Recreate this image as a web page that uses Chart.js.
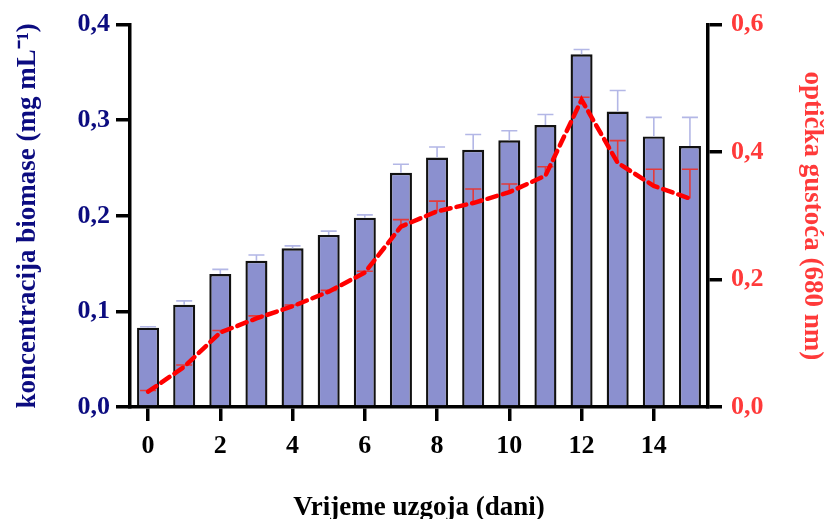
<!DOCTYPE html>
<html>
<head>
<meta charset="utf-8">
<script src="https://cdn.jsdelivr.net/npm/chart.js@4.4.1/dist/chart.umd.min.js"></script>
<style>
    html, body { margin: 0; padding: 0; background: #fff; }
    #wrap { width: 828px; height: 519px; }
</style>
</head>
<body>
<div id="wrap"><canvas id="growthChart" width="828" height="519"></canvas></div>
<script>
// --- data ---
const days = ['0','1','2','3','4','5','6','7','8','9','10','11','12','13','14','15'];
const biomass = [0.083, 0.107, 0.139, 0.153, 0.166, 0.180, 0.198, 0.245, 0.261, 0.269, 0.279, 0.295, 0.369, 0.309, 0.283, 0.273];
const biomassErr = [0.001, 0.004, 0.005, 0.006, 0.0025, 0.004, 0.003, 0.009, 0.011, 0.016, 0.010, 0.011, 0.005, 0.022, 0.020, 0.030];
const opticalDensity = [0.024, 0.063, 0.117, 0.139, 0.158, 0.181, 0.211, 0.283, 0.307, 0.320, 0.337, 0.363, 0.482, 0.383, 0.347, 0.327];
const opticalErr = [0.002, 0.003, 0.003, 0.004, 0.002, 0.002, 0.002, 0.011, 0.016, 0.022, 0.013, 0.014, 0.004, 0.035, 0.026, 0.046];
const leftTicks = [0, 0.1, 0.2, 0.3, 0.4];
const rightTicks = [0, 0.2, 0.4, 0.6];

const SERIF = '"Liberation Serif", "Times New Roman", serif';
const NAVY = '#0c0c80';
const RED = '#ff3a3a';

const fmt = v => v.toFixed(1).replace('.', ',');

// upper-only error bars with caps
function drawErr(chart, dsIndex, errs, axisId, color) {
    const meta = chart.getDatasetMeta(dsIndex);
    const scale = chart.scales[axisId];
    const values = chart.data.datasets[dsIndex].data;
    const ctx = chart.ctx;
    ctx.save();
    ctx.strokeStyle = color;
    ctx.lineWidth = 1.6;
    meta.data.forEach((el, i) => {
        const x = el.x;
        const y0 = scale.getPixelForValue(values[i]);
        const y1 = scale.getPixelForValue(values[i] + errs[i]);
        ctx.beginPath();
        ctx.moveTo(x, y0); ctx.lineTo(x, y1);
        ctx.moveTo(x - 8, y1); ctx.lineTo(x + 8, y1);
        ctx.stroke();
    });
    ctx.restore();
}

const errorBars = {
    id: 'errorBars',
    afterDatasetDraw(chart, args) {
        if (args.index === 0) drawErr(chart, 0, biomassErr, 'y', '#b3b7e6');
    },
    beforeDatasetDraw(chart, args) {
        if (args.index === 1) drawErr(chart, 1, opticalErr, 'y1', '#e43a3a');
    }
};

const ctx = document.getElementById('growthChart').getContext('2d');
new Chart(ctx, {
    data: {
        labels: days,
        datasets: [
            { type: 'bar', data: biomass, yAxisID: 'y', backgroundColor: '#8b90cf', borderColor: '#111', borderWidth: 2.4, barPercentage: 0.61, categoryPercentage: 1, order: 1 },
            { type: 'line', data: opticalDensity, yAxisID: 'y1', borderColor: '#ff0000', borderWidth: 4.5, borderDash: [10, 6], borderCapStyle: 'round', pointRadius: 0, tension: 0, fill: false, order: 0 }
        ]
    },
    options: {
        responsive: false,
        animation: false,
        layout: { padding: { top: 23, left: 0, right: 0, bottom: 0 } },
        plugins: { legend: { display: false }, tooltip: { enabled: false } },
        scales: {
            x: {
                type: 'category',
                offset: true,
                grid: { offset: false, drawOnChartArea: false, tickLength: 14, lineWidth: 3.5, color: c => (c.index % 2 ? 'rgba(0,0,0,0)' : '#000') },
                border: { color: '#000', width: 3.5 },
                ticks: { autoSkip: false, maxRotation: 0, padding: 10, color: '#000', font: { family: SERIF, size: 26, weight: 'bold' }, callback: (v, i) => (i % 2 ? '' : days[i]) },
                title: { display: true, text: 'Vrijeme uzgoja (dani)', color: '#000', font: { family: SERIF, size: 27, weight: 'bold', lineHeight: 1 }, padding: { top: 0, bottom: -3 } },
                afterFit: s => { s.height = 112; }
            },
            y: {
                position: 'left',
                min: 0, max: 0.4,
                afterBuildTicks: s => { s.ticks = leftTicks.map(v => ({ value: v })); },
                grid: { drawOnChartArea: false, tickLength: 14, lineWidth: 3.5, color: '#000' },
                border: { color: '#000', width: 3.5 },
                ticks: { padding: 6, color: NAVY, font: { family: SERIF, size: 26, weight: 'bold' }, callback: v => fmt(v) },
                title: { display: true, text: 'koncentracija biomase (mg mL⁻¹)', color: NAVY, font: { family: SERIF, size: 27, weight: 'bold', lineHeight: 1 }, padding: { top: 14.5, bottom: 0 } },
                afterFit: s => { s.width = 130; }
            },
            y1: {
                position: 'right',
                min: 0, max: 0.6,
                afterBuildTicks: s => { s.ticks = rightTicks.map(v => ({ value: v })); },
                grid: { drawOnChartArea: false, tickLength: 14, lineWidth: 3.5, color: '#000' },
                border: { color: '#000', width: 3.5 },
                ticks: { padding: 9, color: RED, font: { family: SERIF, size: 26, weight: 'bold' }, callback: v => fmt(v) },
                title: { display: true, text: 'optička gustoća (680 nm)', color: RED, font: { family: SERIF, size: 27, weight: 'bold', lineHeight: 1 }, padding: { top: 2.5, bottom: 0 } },
                afterFit: s => { s.width = 120; }
            }
        }
    },
    plugins: [errorBars]
});
</script>
</body>
</html>
